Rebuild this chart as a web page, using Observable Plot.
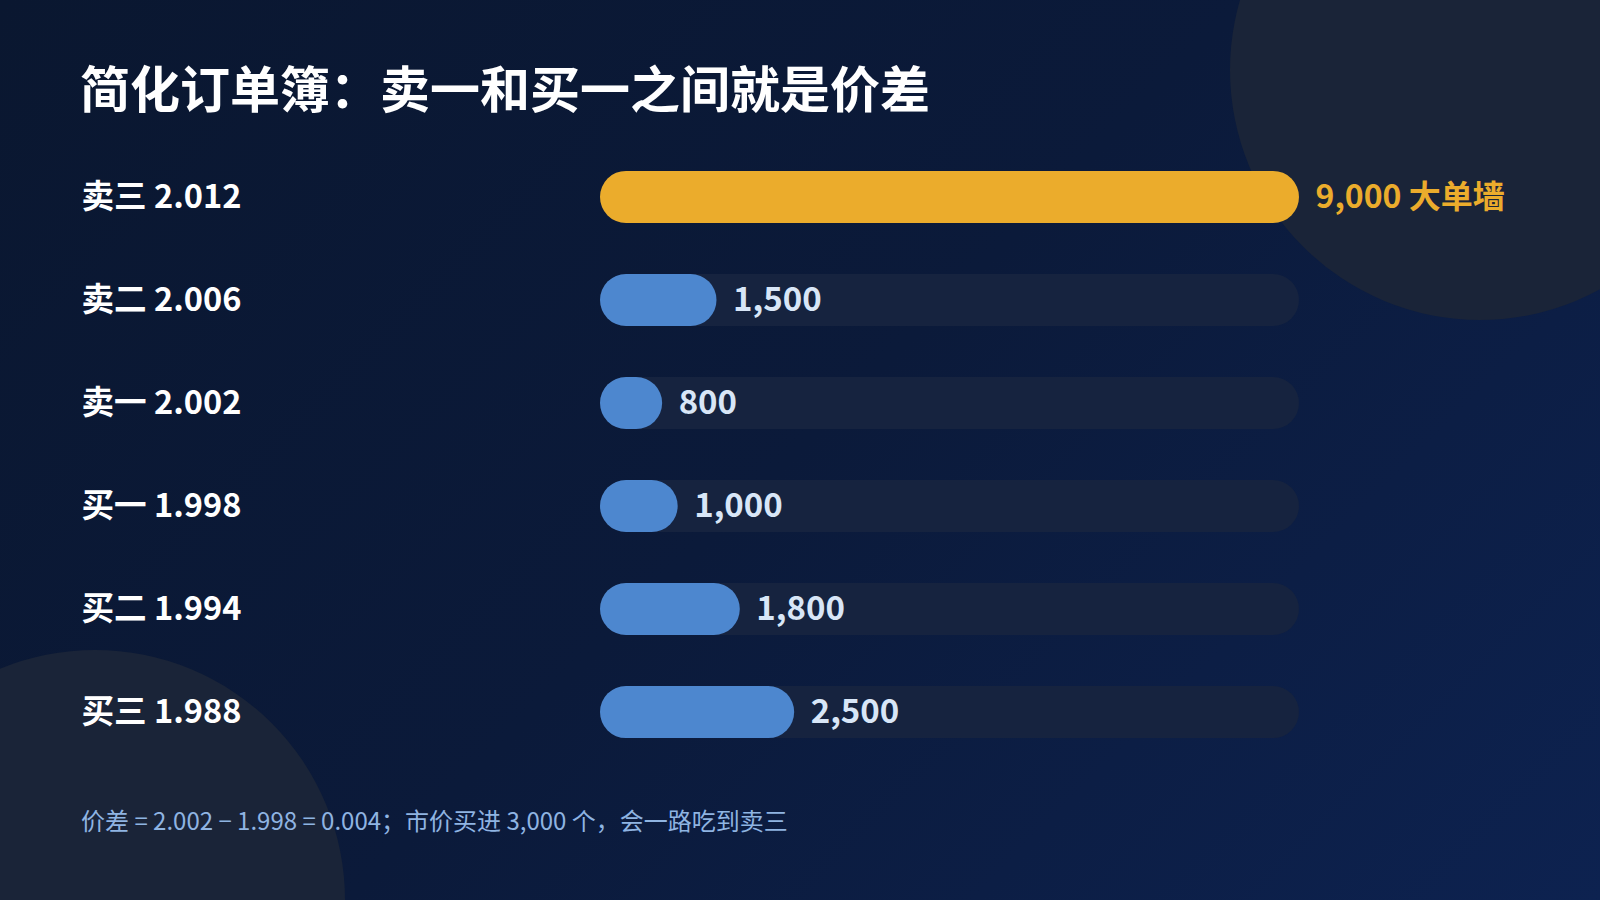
<!DOCTYPE html>
<html>
<head>
<meta charset="utf-8">
<script src="https://cdn.jsdelivr.net/npm/d3@7"></script>
<script src="https://cdn.jsdelivr.net/npm/@observablehq/plot@0.6"></script>
<style>
  html, body { margin: 0; padding: 0; }
  body { width: 1600px; height: 900px; overflow: hidden; }
  #page {
    position: relative; width: 1600px; height: 900px; overflow: hidden;
    background: linear-gradient(135deg, #0a1730 0%, #0b1a3a 50%, #0d2250 100%);
    font-family: "Noto Sans CJK SC", "Noto Sans", sans-serif;
  }
  .blob { position: absolute; border-radius: 50%; background: #1a2438; }
  #title {
    position: absolute; left: 80px; top: 61px; margin: 0;
    font-size: 50px; line-height: 50px; font-weight: 700; color: #ffffff;
    white-space: nowrap;
  }
  #chart { position: absolute; left: 0; top: 0; }
  #caption {
    position: absolute; left: 81px; top: 805px; margin: 0;
    font-size: 24px; line-height: 30px; font-weight: 400; color: #8fb4e2; white-space: nowrap;
  }
</style>
</head>
<body>
<div id="page">
  <div class="blob" style="left:1230px; top:-180px; width:500px; height:500px;"></div>
  <div class="blob" style="left:-155px; top:650px; width:500px; height:500px;"></div>
  <h1 id="title">简化订单簿：卖一和买一之间就是价差</h1>
  <div id="chart"></div>
  <p id="caption">价差 = 2.002 − 1.998 = 0.004；市价买进 3,000 个，会一路吃到卖三</p>
</div>
<script>
const levels = ["卖三 2.012", "卖二 2.006", "卖一 2.002", "买一 1.998", "买二 1.994", "买三 1.988"];
const sizes = [9000, 1500, 800, 1000, 1800, 2500];
const valueLabels = ["9,000 大单墙", "1,500", "800", "1,000", "1,800", "2,500"];
const isWall = [true, false, false, false, false, false];
const maxSize = 9000;

const rows = levels.map((level, i) => ({
  level, size: sizes[i], label: valueLabels[i], wall: isWall[i], max: maxSize
}));

const chart = Plot.plot({
  width: 1600,
  height: 900,
  marginLeft: 600,
  marginRight: 301,
  marginTop: 120,
  marginBottom: 111,
  style: { background: "transparent", fontFamily: "'Noto Sans CJK SC', 'Noto Sans', sans-serif", overflow: "visible" },
  x: { domain: [0, maxSize], axis: null },
  y: { domain: levels, padding: 0.494, round: false, axis: null },
  marks: [
    Plot.barX(rows, { y: "level", x: "max", fill: "#16233f", rx: 26 }),
    Plot.barX(rows, { y: "level", x: "size", fill: d => d.wall ? "#ebac2c" : "#4d87cf", rx: 26 }),
    Plot.text(rows, {
      y: "level", text: "level", frameAnchor: "left", textAnchor: "start", dx: -519,
      fill: "#ffffff", fontSize: 32.6, fontWeight: 700
    }),
    Plot.text(rows, {
      y: "level", x: "size", text: "label", textAnchor: "start", dx: 16,
      fill: d => d.wall ? "#ebac2c" : "#d8e6f7", fontSize: d => d.wall ? 32 : 33, fontWeight: 700
    })
  ]
});
document.getElementById("chart").appendChild(chart);
</script>
</body>
</html>
